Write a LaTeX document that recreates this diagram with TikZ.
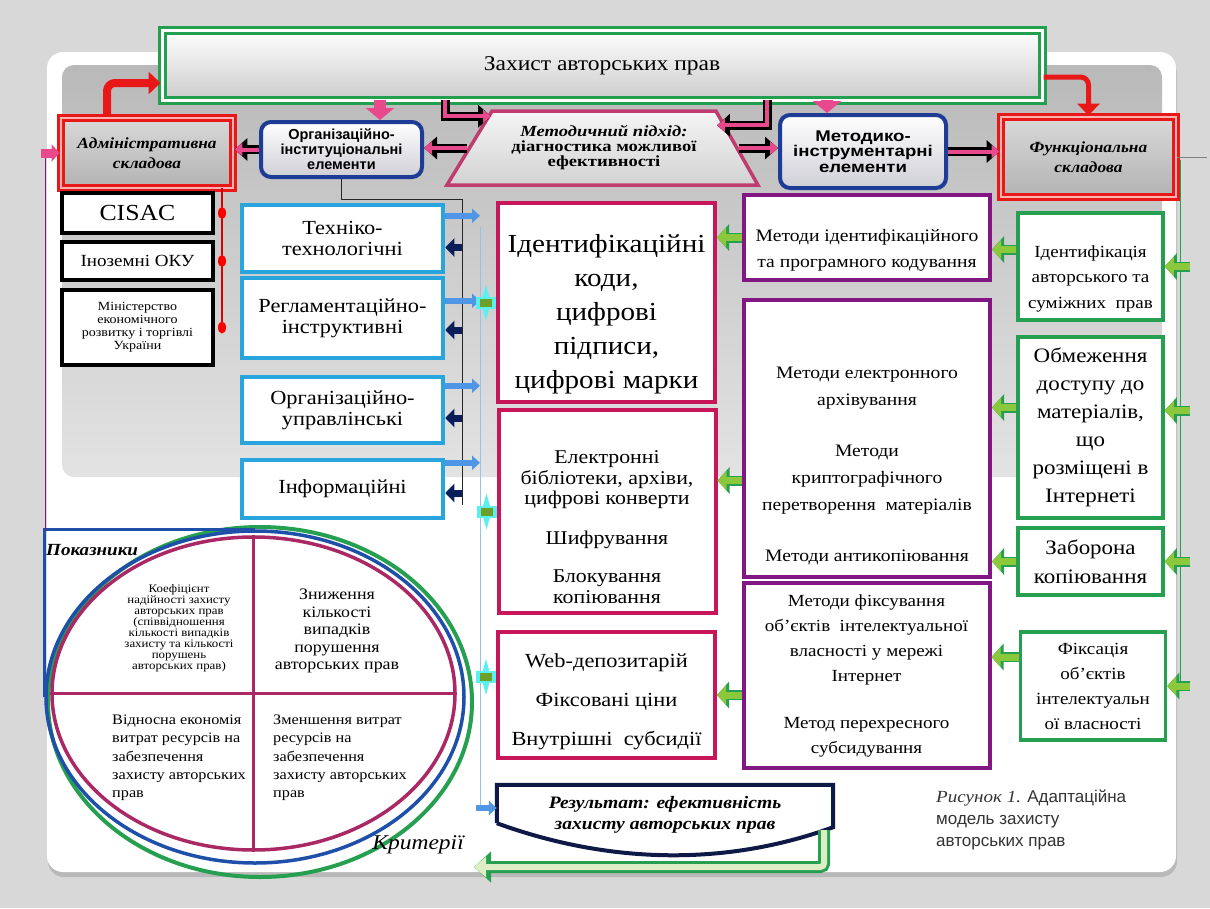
\documentclass[tikz,border=0pt]{standalone}
\usepackage{fontspec}
\setmainfont{Liberation Serif}[FakeStretch=1.12]
\setsansfont{Liberation Sans}
\newfontfamily\widesans{Liberation Sans}[FakeStretch=1.2]
\newfontfamily\wideserif{Liberation Serif}[FakeStretch=1.2]
\usepackage{color}
\usepackage{tikz}
\usetikzlibrary{arrows.meta}
\usetikzlibrary{shapes.geometric}
\usetikzlibrary{shadows}

\definecolor{bgGray}{RGB}{216,216,216}
\definecolor{titleGreen}{RGB}{34,160,80}
\definecolor{admRed}{RGB}{232,24,24}
\definecolor{hotPink}{RGB}{232,72,140}
\definecolor{trapPink}{RGB}{190,60,110}
\definecolor{frameBlue}{RGB}{30,60,150}
\definecolor{skyBlue}{RGB}{40,165,220}
\definecolor{busBlue}{RGB}{80,150,230}
\definecolor{navyArr}{RGB}{10,30,90}
\definecolor{crimson}{RGB}{200,22,90}
\definecolor{plum}{RGB}{130,22,130}
\definecolor{boxGreen}{RGB}{38,160,80}
\definecolor{limeFill}{RGB}{140,200,60}
\definecolor{ringRed}{RGB}{170,40,100}
\definecolor{ringBlue}{RGB}{30,80,170}
\definecolor{resNavy}{RGB}{15,25,70}
\definecolor{glowCyan}{RGB}{90,240,240}
\definecolor{markGreen}{RGB}{110,160,40}

\begin{document}
\begin{tikzpicture}[x=1pt,y=-1pt]
\tikzstyle{plainBox} =
[
	shape			= rectangle,		% shape
	fill			= white,			% inside colour
	align			= center,			% lines centred
	inner sep		= 0pt,				% text sits on its own
	line width		= 4pt				% thickness of the border
]
\tikzstyle{redBox} =
[
	plainBox,
	draw			= admRed,			% colour of the border
	double			= red!30!white,		% | bevelled frame
	double distance	= 1.5pt,			% |
	line width		= 2.8pt,
	top color		= gray!30,			% | filling colors
	bottom color	= gray!60,			% |
	font			= \bfseries\itshape\fontsize{15.5}{20}\selectfont
]
\tikzstyle{roundBox} =
[
	plainBox,
	rounded corners	= 10pt,				% roundness of the corners
	draw			= frameBlue,
	top color		= white,
	bottom color	= blue!8!gray!35
]
\tikzstyle{blackBox} = [plainBox, draw=black, minimum width=151pt]
\tikzstyle{blueBox} = [plainBox, draw=skyBlue, line width=4.5pt, minimum width=201pt, font=\fontsize{20}{21}\selectfont]
\tikzstyle{redFrame} = [plainBox, draw=crimson, minimum width=217pt]
\tikzstyle{plumBox} = [plainBox, draw=plum, minimum width=246pt]
\tikzstyle{greenBox} = [plainBox, draw=boxGreen, line width=3.5pt, minimum width=145pt]
% arrows
\tikzstyle{pinkArrow} = [draw=hotPink, line width=4pt, -{Triangle[length=8pt,width=13pt]},
	preaction={draw=black, line width=9pt, -{Triangle[length=13pt,width=22pt]}}]
\tikzstyle{limeArrow} = [draw=limeFill, line width=7pt, -{Triangle[length=9pt,width=19pt]},
	preaction={draw=boxGreen, line width=10pt, -{Triangle[length=12pt,width=26pt]}}]
\tikzstyle{redArrow} = [draw=admRed, line width=8pt, rounded corners=8pt, -{Triangle[length=12pt,width=22pt]}]
\tikzstyle{downArrow} = [draw=hotPink, line width=12pt, -{Triangle[length=12pt,width=28pt]}]
\tikzstyle{skyArrow} = [draw=busBlue, line width=6pt, -{Triangle[length=8pt,width=14pt]}]
\tikzstyle{navyArrow} = [draw=navyArr, line width=7pt, -{Triangle[length=9pt,width=18pt]}]

% background, slide and grey panel
\fill [bgGray] (0,0) rectangle (1210,908);
\useasboundingbox (0,0) rectangle (1210,908);
\fill [white, rounded corners=16pt, drop shadow={shadow xshift=1pt, shadow yshift=-5pt, opacity=.35}] (47,52) rectangle (1176,872);
\shade [top color=gray!55, bottom color=gray!22, rounded corners=12pt] (62,65) rectangle (1162,477);

% top row
\node (ttl) [plainBox, draw=titleGreen, double=white, double distance=3pt, line width=3pt, top color=white, bottom color=gray!40,
	minimum width=880pt, minimum height=70pt, font=\fontsize{21}{25}\selectfont] at (602,65) {\raisebox{-15pt}{Захист авторських прав}};
\node (adm) [redBox, minimum width=172pt, minimum height=70pt] at (147,153) {Адміністративна\\складова};
\node (fun) [redBox, minimum width=175pt, minimum height=80pt] at (1088.5,157) {Функціональна\\складова};
\node (org) [roundBox, minimum width=161pt, minimum height=55pt, font=\sffamily\bfseries\fontsize{14.5}{15}\selectfont] at (341.5,149.5) {Організаційно-\\інституціональні\\елементи};
\node (met) [roundBox, minimum width=166pt, minimum height=73pt, font=\widesans\bfseries\fontsize{15.5}{15.5}\selectfont] at (863,151.5) {Методико-\\інструментарні\\елементи};
\node (trap) [trapezium, trapezium left angle=50, trapezium right angle=52, trapezium stretches=true, minimum width=312pt, minimum height=74pt,
	draw=trapPink, line width=3.5pt, top color=gray!8, bottom color=gray!35, align=center, inner sep=0pt,
	font=\wideserif\bfseries\fontsize{15.5}{15}\selectfont] at (604,148) {\textit{Методичний підхід:}\\діагностика можливої\\ефективності};

% left column
\node (cisac) [blackBox, minimum height=40pt, font=\fontsize{23}{25}\selectfont] at (137.5,213) {CISAC};
\node (oku) [blackBox, minimum height=38pt, font=\fontsize{17}{19}\selectfont] at (137.5,261) {Іноземні ОКУ};
\node (minec) [blackBox, minimum height=75pt, font=\fontsize{12.5}{13}\selectfont] at (137.5,327.5) {Міністерство\\економічного\\розвитку і торгівлі\\України};
\node (tech) [blueBox, minimum height=67pt] at (342.5,238.5) {Техніко-\\технологічні};
\node (reg) [blueBox, minimum height=80pt] at (342.5,318) {Регламентаційно-\\інструктивні};
\node (orgm) [blueBox, minimum height=66pt] at (342.5,410) {Організаційно-\\управлінські};
\node (info) [blueBox, minimum height=58pt] at (342.5,489) {\raisebox{-9pt}{Інформаційні}};

% tools
\node (ida) [redFrame, minimum height=199pt, font=\fontsize{26}{34}\selectfont] at (606.5,302.5) {\rule{0pt}{42pt}Ідентифікаційні\\коди,\\цифрові\\підписи,\\цифрові марки};
\node (lib) [redFrame, minimum height=203pt, font=\fontsize{19.5}{20.5}\selectfont] at (607,511.5) {\rule{0pt}{44pt}Електронні\\бібліотеки, архіви,\\цифрові конверти\\[19pt]Шифрування\\[18pt]Блокування\\копіювання};
\node (web) [redFrame, minimum height=126pt, font=\fontsize{20}{39}\selectfont] at (606.5,695) {\rule{0pt}{28pt}Web-депозитарій\\Фіксовані ціни\\Внутрішні\ \ субсидії};

% methods
\node (pcode) [plumBox, minimum height=85pt, font=\fontsize{17.5}{26}\selectfont] at (867,237.5) {\rule{0pt}{38pt}Методи ідентифікаційного\\та програмного кодування};
\node (parch) [plumBox, minimum height=277pt, font=\fontsize{17.5}{27}\selectfont] at (867,438.5) {\rule{0pt}{66pt}Методи електронного\\архівування\\[24pt]Методи\\криптографічного\\перетворення\ \ матеріалів\\[24pt]Методи антикопіювання};
\node (pfix) [plumBox, minimum height=185pt, font=\fontsize{17}{25}\selectfont] at (866.5,675.5) {Методи фіксування\\об'єктів\ \ інтелектуальної\\власності у мережі\\Інтернет\\[22pt]Метод перехресного\\субсидування};

% functions
\node (gid) [greenBox, minimum height=107pt, font=\fontsize{17}{25.5}\selectfont] at (1090.5,266.5) {\rule{0pt}{36pt}Ідентифікація\\авторського та\\суміжних\ \ прав};
\node (gacc) [greenBox, minimum height=181pt, font=\fontsize{20.5}{28}\selectfont] at (1090.5,427.5) {Обмеження\\доступу до\\матеріалів,\\що\\розміщені в\\Інтернеті};
\node (gban) [greenBox, minimum height=67pt, font=\fontsize{20.5}{29}\selectfont] at (1090.5,561.5) {Заборона\\копіювання};
\node (gfix) [greenBox, minimum height=108pt, font=\fontsize{17}{25}\selectfont] at (1093,686) {Фіксація\\об'єктів\\інтелектуальн\\ої власності};

% criteria
\node (crit) [ellipse, draw=boxGreen, line width=4pt, minimum width=424pt, minimum height=350pt] at (260,702) {};
\node (ind) [ellipse, draw=ringBlue, line width=3.5pt, minimum width=418pt, minimum height=332pt] at (255,697) {};
\node (quad) [ellipse, draw=ringRed, line width=3.5pt, minimum width=403pt, minimum height=313pt] at (253.5,693.5) {};
\draw [ringRed, line width=3.5pt] (quad.north) -- (quad.south);
\draw [ringRed, line width=3.5pt] (quad.west) -- (quad.east);
\draw [ringBlue, line width=3.5pt] (ind.north) -| (ind.west);
\node (pok) [anchor=west, inner sep=0pt, font=\bfseries\itshape\fontsize{17}{20}\selectfont] at (46,550) {Показники};
\node (krit) [anchor=east, inner sep=0pt, font=\itshape\fontsize{21}{24}\selectfont] at (464,845) {Критерії};
\node (q1) [align=center, inner sep=0pt, font=\fontsize{11.5}{11}\selectfont] at (179,628) {Коефіцієнт\\надійності захисту\\авторських прав\\(співвідношення\\кількості випадків\\захисту та кількості\\порушень\\авторських прав)};
\node (q2) [align=center, inner sep=0pt, font=\fontsize{16}{17.5}\selectfont] at (337,631) {Зниження\\кількості\\випадків\\порушення\\авторських прав};
\node (q3) [anchor=west, align=left, inner sep=0pt, font=\fontsize{14.5}{18.3}\selectfont] at (112,758) {Відносна економія\\витрат ресурсів на\\забезпечення\\захисту авторських\\прав};
\node (q4) [anchor=west, align=left, inner sep=0pt, font=\fontsize{14.5}{18.3}\selectfont] at (273,758) {Зменшення витрат\\ресурсів на\\забезпечення\\захисту авторських\\прав};

% result and caption
\node (res) [align=center, inner sep=0pt, minimum width=336pt, minimum height=60pt, font=\bfseries\itshape\fontsize{17.5}{21}\selectfont] at (665,815) {Результат: ефективність\\захисту авторських прав};
\draw [resNavy, line width=4pt] ([yshift=22pt]res.south west) -- (res.north west) -- (res.north east) -- ([yshift=18pt]res.south east)
	.. controls +(-110,40) and +(110,40) .. ([yshift=22pt]res.south west);
\node (cap) [anchor=north west, align=left, inner sep=0pt, text=black!80, font=\sffamily\fontsize{17}{22}\selectfont] at (936,790) {{\rmfamily\itshape Рисунок 1.} Адаптаційна\\модель захисту\\авторських прав};

% free ends
\coordinate (e1) at (445,100);
\coordinate (e2) at (767,100);
\coordinate (pd1) at (380,100);
\coordinate (pd2) at (827,100);
\coordinate (lp) at (45,153);
\coordinate (indTL) at (45,531);
\coordinate (rb) at (222,188);
\coordinate (busL) at (462,505);
\coordinate (busTop) at (480,227);
\coordinate (busBot) at (480,808);
\coordinate (gTop) at (1180,160);
\coordinate (gBot) at (1180,690);
\coordinate (gEnd) at (474,867);

% top connectors
\draw [redArrow] ([xshift=-40pt]adm.north) |- ([yshift=-18pt]ttl.west);
\draw [redArrow, line width=5pt] ([yshift=-12pt]ttl.east) -| (fun.north);
\draw [downArrow] (pd1) -- (pd1 |- org.north);
\draw [downArrow] (pd2) -- (pd2 |- met.north);
\draw [pinkArrow] (e1) |- ([yshift=-7pt]trap.top left corner);
\draw [pinkArrow] (e2) |- ([yshift=-16pt]trap.top right corner);
\draw [pinkArrow] (org.west) -- (org.west -| adm.east);
\draw [pinkArrow] (trap.west) -- (trap.west -| org.east);
\draw [pinkArrow] (trap.east) -- (trap.east -| met.west);
\draw [pinkArrow] (met.east) -- (met.east -| fun.west);
\draw [plum, line width=1pt] (indTL) -- (lp);
\draw [hotPink, line width=9pt, -{Triangle[length=8pt,width=17pt]}] ([xshift=-4pt]lp) -- (adm.west);

% left column links
\draw [red!85!black, line width=1.2pt] (rb) -- (rb |- minec.east);
\fill [red] (rb |- cisac.east) ellipse (4 and 6);
\fill [red] (rb |- oku.east) ellipse (4 and 6);
\fill [red] (rb |- minec.east) ellipse (4 and 6);
\draw [gray!30!black, line width=0.8pt] (org.south) -- ++(0,20) -| (busL);
\draw [busBlue!60, line width=1pt] (busTop) -- (busBot);
\draw [skyArrow] ([yshift=-13pt]tech.north east) -- ([yshift=-13pt]tech.north east -| busTop);
\draw [skyArrow] ([yshift=-25pt]reg.north east) -- ([yshift=-25pt]reg.north east -| busTop);
\draw [skyArrow] ([yshift=-11pt]orgm.north east) -- ([yshift=-11pt]orgm.north east -| busTop);
\draw [skyArrow] ([yshift=-5pt]info.north east) -- ([yshift=-5pt]info.north east -| busTop);
\draw [navyArrow] ([yshift=-9pt]tech.east -| busL) -- ([yshift=-9pt]tech.east);
\draw [navyArrow] ([yshift=-12pt]reg.east -| busL) -- ([yshift=-12pt]reg.east);
\draw [navyArrow] ([yshift=-8pt]orgm.east -| busL) -- ([yshift=-8pt]orgm.east);
\draw [navyArrow] ([yshift=-4pt]info.east -| busL) -- ([yshift=-4pt]info.east);
\draw [skyArrow] ([xshift=-4pt]busBot) -- (busBot -| res.west);

% joints on the tool boxes
\coordinate (mk1) at ([xshift=-10pt]ida.west);
\coordinate (mk2) at ([xshift=-10pt]lib.west);
\coordinate (mk3) at ([xshift=-10pt, yshift=18pt]web.west);
\fill [glowCyan] (mk1) +(0,-18) -- +(5,0) -- +(0,18) -- +(-5,0) -- cycle;
\fill [glowCyan] (mk1) +(-10,-6) rectangle +(10,6);
\fill [markGreen] (mk1) +(-6,-4) rectangle +(6,4);
\fill [glowCyan] (mk2) +(0,-18) -- +(5,0) -- +(0,18) -- +(-5,0) -- cycle;
\fill [glowCyan] (mk2) +(-10,-6) rectangle +(10,6);
\fill [markGreen] (mk2) +(-6,-4) rectangle +(6,4);
\fill [glowCyan] (mk3) +(0,-18) -- +(5,0) -- +(0,18) -- +(-5,0) -- cycle;
\fill [glowCyan] (mk3) +(-10,-6) rectangle +(10,6);
\fill [markGreen] (mk3) +(-6,-4) rectangle +(6,4);

% right-hand flows
\draw [gray, line width=.8pt] (fun.east) -- ++(30,0);
\draw [boxGreen, line width=1pt] (gTop) -- (gBot);
\draw [limeArrow] ([xshift=10pt]gid.east -| gTop) -- (gid.east);
\draw [limeArrow] ([xshift=10pt, yshift=17pt]gacc.east -| gTop) -- ([yshift=17pt]gacc.east);
\draw [limeArrow] ([xshift=10pt]gban.east -| gTop) -- (gban.east);
\draw [limeArrow] ([xshift=10pt]gfix.east -| gTop) -- (gfix.east);
\draw [limeArrow] ([yshift=-12pt]pcode.east -| gid.west) -- ([yshift=-12pt]pcode.east);
\draw [limeArrow] (pcode.west) -- (pcode.west -| ida.east);
\draw [limeArrow] ([yshift=20pt]gacc.west) -- ([yshift=20pt]gacc.west -| parch.east);
\draw [limeArrow] (gban.west) -- (gban.west -| parch.east);
\draw [limeArrow] ([yshift=-42pt]parch.west) -- ([yshift=-42pt]parch.west -| lib.east);
\draw [limeArrow] ([yshift=29pt]gfix.west) -- ([yshift=29pt]gfix.west -| pfix.east);
\draw [limeArrow] (web.east -| pfix.west) -- (web.east);

% result back to criteria
\draw [draw=white!70!limeFill, line width=6pt, rounded corners=4pt, -{Triangle[length=12pt,width=20pt]},
	preaction={draw=boxGreen, line width=12pt, -{Triangle[length=17pt,width=30pt]}}] ([xshift=-9pt, yshift=15pt]res.south east) |- (gEnd);
\end{tikzpicture}
\end{document}
